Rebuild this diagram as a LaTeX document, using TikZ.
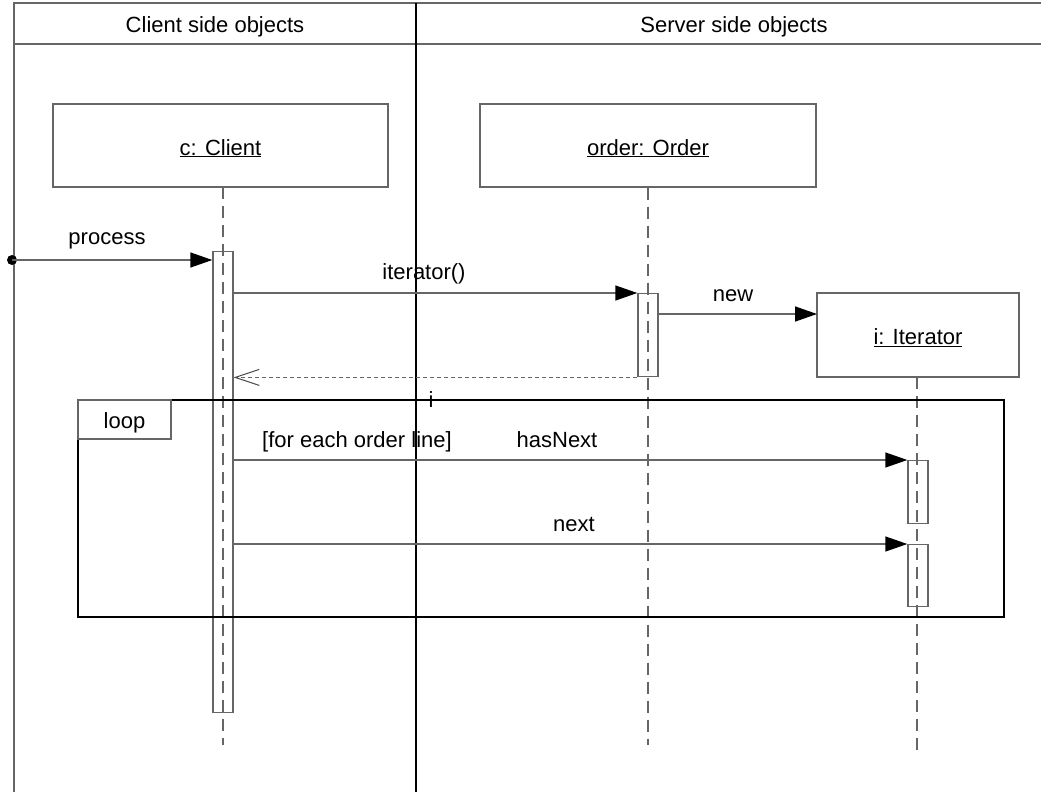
\documentclass[tikz,border=0pt]{standalone}
\usepackage{fontspec}
\setmainfont{Liberation Sans}
\usetikzlibrary{arrows.meta}
\begin{document}
\begin{tikzpicture}[x=1pt,y=-1pt,
  font=\fontsize{22}{26}\selectfont,
  gline/.style={draw=black!60, line width=1.4pt},
  kline/.style={draw=black, line width=1.2pt},
  objbox/.style={gline, rectangle, inner sep=0pt, text height=23pt, text depth=4pt},
  actbar/.style={gline, rectangle, inner sep=0pt, minimum width=20pt, anchor=north},
  lifeline/.style={gline, dash pattern=on 12pt off 7pt},
  msg/.style={gline, -{Triangle[length=22pt,width=15pt,fill=black,color=black]}},
  ret/.style={draw=black!60, line width=1.2pt, dash pattern=on 4pt off 3pt,
              -{Straight Barb[length=24pt,width=16pt,color=black!70,line width=1pt]}},
  lbl/.style={inner sep=0pt, yshift=-3pt}]
\useasboundingbox (0,0) rectangle (1041,792);
% swimlanes
\draw[gline] (14,792) -- (14,3) -- (1041,3);
\draw[gline] (14,44) -- (1041,44);
\draw[kline] (416,3) -- (416,792);
\node[lbl] (hc) at (215,24) {Client side objects};
\node[lbl] (hs) at (734,24) {Server side objects};
% objects
\node[objbox, minimum width=335pt, minimum height=83pt] (client) at (220.5,145.5) {\underline{c: Client}};
\node[objbox, minimum width=336pt, minimum height=83pt] (order) at (648,145.5) {\underline{order: Order}};
\node[objbox, minimum width=202pt, minimum height=84pt] (iter) at (918,335) {\underline{i: Iterator}};
% end points of lifelines
\coordinate (cend) at (223,745);
\coordinate (oend) at (648,745);
\coordinate (iend) at (917,750);
% activation bars
\node[actbar, minimum height=461pt] (cbar) at (223,251) {};
\node[actbar, minimum height=83pt] (obar) at (648,293) {};
\node[actbar, minimum height=63pt] (ibar1) at (918,460) {};
\node[actbar, minimum height=62pt] (ibar2) at (918,544) {};
% lifelines
\draw[lifeline] (223,187) -- (cend);
\draw[lifeline] (order.south) -- (oend);
\draw[lifeline] (917,377) -- (iend);
% loop frame
\node[draw=black, line width=1.2pt, rectangle, inner sep=0pt, minimum width=926pt, minimum height=217pt] (loop) at (541,508.5) {};
\node[draw=black!60, line width=1.2pt, rectangle, inner sep=0pt, minimum width=93pt, minimum height=39pt, anchor=north west] (looptab) at (loop.north west) {};
\node[lbl] (looplbl) at (looptab.center) {loop};
% messages
\coordinate (pstart) at (12,260);
\fill (pstart) circle (5pt);
\draw[msg] (pstart) -- (pstart -| cbar.west);
\node[lbl] (lprocess) at (107,238) {process};
\draw[msg] (cbar.east |- obar.north) -- (obar.north west);
\node[lbl] (literator) at (424,271) {iterator()};
\coordinate (newend) at (817,314);
\draw[msg] (newend -| obar.east) -- (newend);
\node[lbl] (lnew) at (733,293) {new};
\draw[ret] (obar.south west) -- (cbar.east |- obar.south);
\node[lbl] (li) at (431,397) {i};
\draw[msg] (cbar.east |- ibar1.north) -- (ibar1.north west);
\node[lbl] (lhas) at (557,437) {hasNext};
\node[lbl] (lguard) at (357,439) {[for each order line]};
\draw[msg] (cbar.east |- ibar2.north) -- (ibar2.north west);
\node[lbl] (lnext) at (574,521) {next};
\end{tikzpicture}
\end{document}
